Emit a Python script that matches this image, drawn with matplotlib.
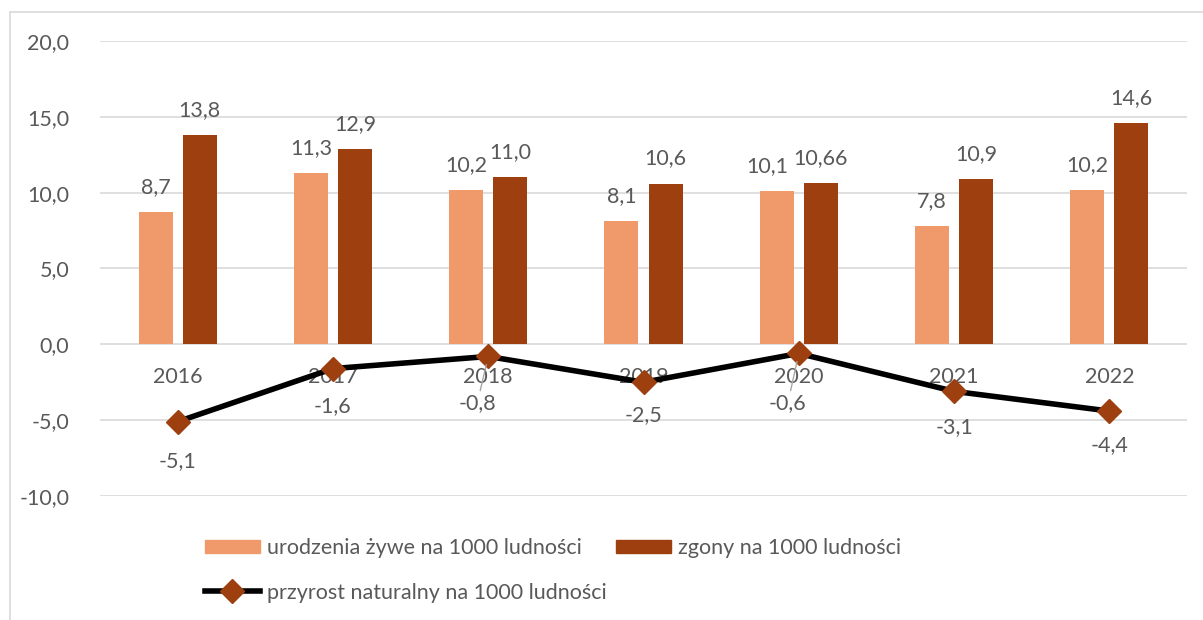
import numpy as np
import matplotlib.pyplot as plt
from matplotlib.patches import Rectangle, Patch
from matplotlib.lines import Line2D
from matplotlib.ticker import FuncFormatter

# Data
years = ["2016", "2017", "2018", "2019", "2020", "2021", "2022"]
births = [8.7, 11.3, 10.2, 8.1, 10.1, 7.8, 10.2]
births_labels = ["8,7", "11,3", "10,2", "8,1", "10,1", "7,8", "10,2"]
deaths = [13.8, 12.9, 11.0, 10.6, 10.66, 10.9, 14.6]
deaths_labels = ["13,8", "12,9", "11,0", "10,6", "10,66", "10,9", "14,6"]
growth = [-5.1, -1.6, -0.8, -2.5, -0.6, -3.1, -4.4]
growth_labels = ["-5,1", "-1,6", "-0,8", "-2,5", "-0,6", "-3,1", "-4,4"]

# Label placement (pixels) as laid out in the original chart
births_dx = [0, 0, 0, 0, -9, 0, 0]
growth_dx = [0, 0, -11, 0, -11, 0, 0]
growth_dy = [-39, -37, -47, -33, -50, -36, -34]
growth_leader = [False, False, True, False, True, False, False]

light = "#F09A6C"
dark = "#9E3F10"
txt = "#595959"
grid = "#D9D9D9"
fs = 15.5

plt.rcParams["font.family"] = ["Lato", "DejaVu Sans"]
plt.rcParams["font.size"] = fs

fig = plt.figure(figsize=(12.03, 6.2), dpi=100)
ax = fig.add_axes([100 / 1203, 0.2, 1087 / 1203, 0.7339])

# Outer chart border
fig.patches.append(Rectangle((10 / 1203, -0.1), 1.2, (620 - 12) / 620 + 0.1,
                             transform=fig.transFigure, fill=False,
                             edgecolor=grid, linewidth=1.2))

x = np.arange(len(years))
w = 0.219
off = 0.1417
ax.bar(x - off, births, w, color=light, zorder=2)
ax.bar(x + off, deaths, w, color=dark, zorder=2)
ax.plot(x, growth, color="black", linewidth=4, zorder=3,
        marker="D", markersize=12, markerfacecolor=dark, markeredgecolor=dark)

# Bar labels
for i in range(len(years)):
    ax.annotate(births_labels[i], (x[i] - off, births[i]), xytext=(births_dx[i], 25),
                textcoords="offset pixels", ha="center", va="center", color=txt)
    ax.annotate(deaths_labels[i], (x[i] + off, deaths[i]), xytext=(0, 25),
                textcoords="offset pixels", ha="center", va="center", color=txt)

# Category labels just below zero line
for i in range(len(years)):
    ax.annotate(years[i], (x[i], 0), xytext=(0, -33),
                textcoords="offset pixels", ha="center", va="center", color=txt,
                zorder=2)

# Line labels
for i in range(len(years)):
    props = None
    if growth_leader[i]:
        props = dict(arrowstyle="-", color="#A6A6A6", lw=1.0, shrinkA=0, shrinkB=6)
    ax.annotate(growth_labels[i], (x[i], growth[i]), xytext=(growth_dx[i], growth_dy[i]),
                textcoords="offset pixels", ha="center", va="center", color=txt,
                arrowprops=props, zorder=4)

ax.set_xlim(-0.5, len(years) - 0.5)
ax.set_ylim(-10, 20)
ax.set_yticks(np.arange(-10, 21, 5))
ax.yaxis.set_major_formatter(FuncFormatter(lambda v, p: f"{v:.1f}".replace(".", ",")))
ax.set_xticks([])
ax.tick_params(axis="y", length=0, pad=22, colors=txt, labelsize=fs)
ax.grid(axis="y", color=grid, linewidth=1.2, zorder=0)
for s in ax.spines.values():
    s.set_visible(False)

# Legends
h1 = [Patch(color=light), Patch(color=dark)]
fig.legend(h1, ["urodzenia żywe na 1000 ludności", "zgony na 1000 ludności"],
           loc="center left", bbox_to_anchor=(205 / 1203, 1 - 548 / 620),
           ncol=2, frameon=False, handlelength=2.55, handleheight=0.6,
           handletextpad=0.33, columnspacing=1.6, borderpad=0, borderaxespad=0,
           labelcolor=txt, fontsize=fs)
h2 = [Line2D([], [], color="black", linewidth=4, marker="D", markersize=12,
             markerfacecolor=dark, markeredgecolor=dark)]
fig.legend(h2, ["przyrost naturalny na 1000 ludności"],
           loc="center left", bbox_to_anchor=(205 / 1203, 1 - 593 / 620),
           frameon=False, handlelength=2.55, handletextpad=0.33,
           borderpad=0, borderaxespad=0, labelcolor=txt, fontsize=fs)

fig.savefig("out.png", dpi=100)
